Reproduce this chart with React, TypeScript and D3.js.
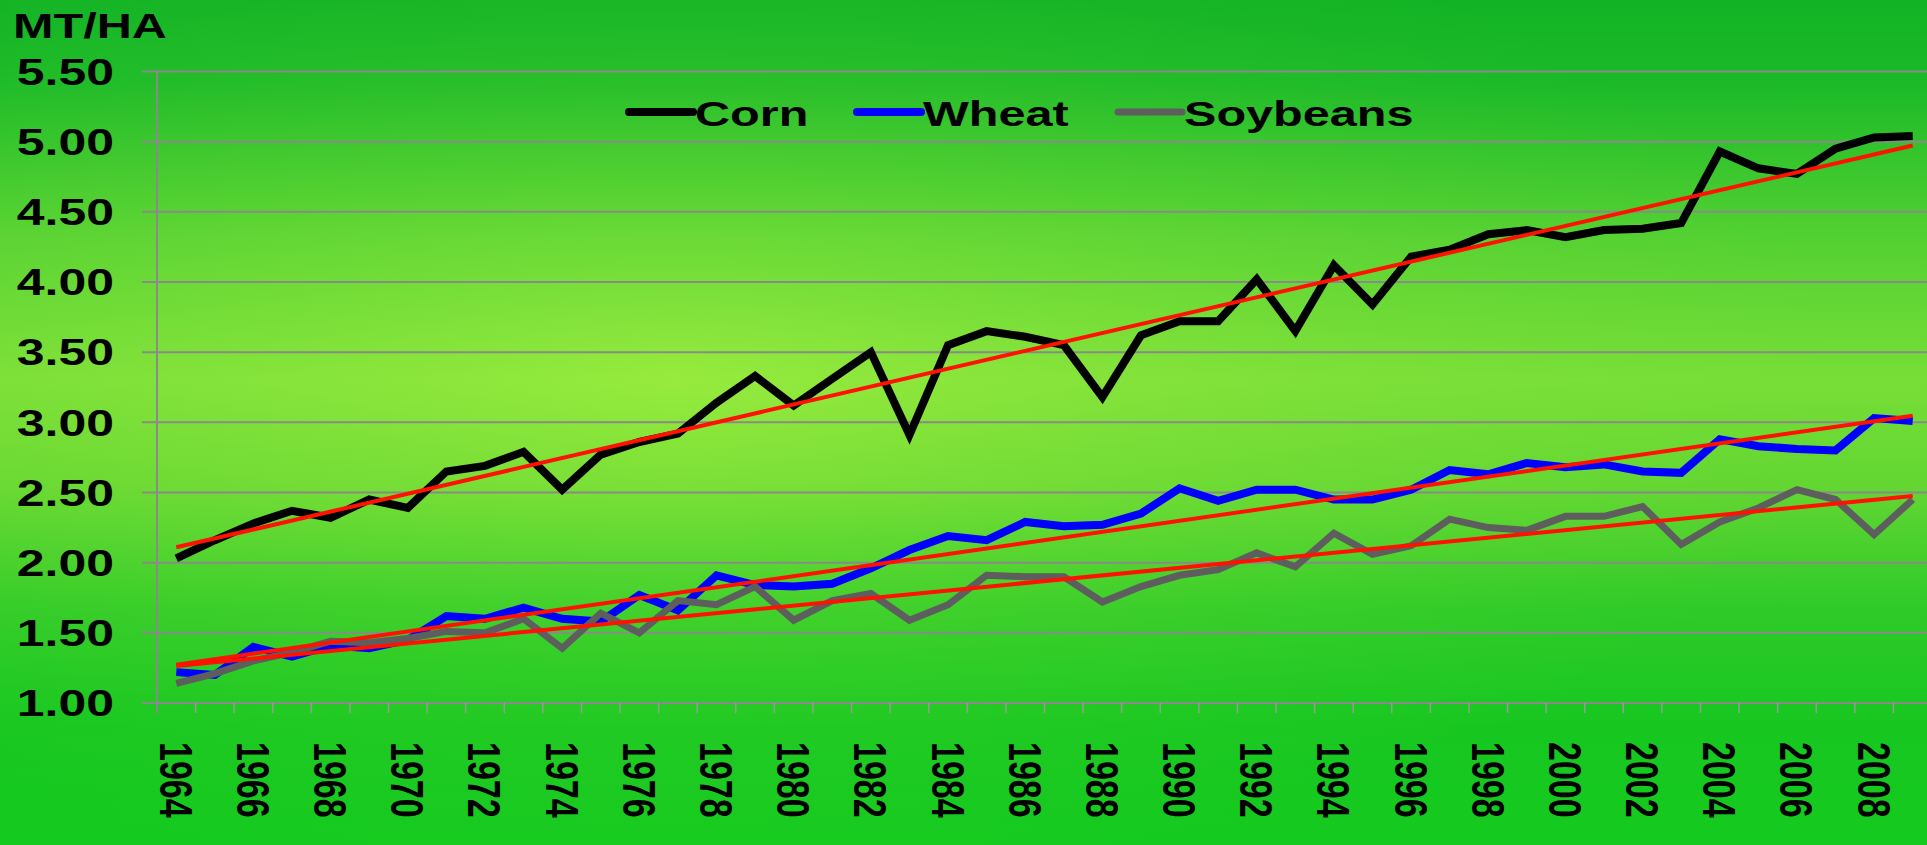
import React, { useEffect, useRef } from "react";
import * as d3 from "d3";

const years = [
  1964, 1965, 1966, 1967, 1968, 1969, 1970, 1971, 1972, 1973, 1974, 1975,
  1976, 1977, 1978, 1979, 1980, 1981, 1982, 1983, 1984, 1985, 1986, 1987,
  1988, 1989, 1990, 1991, 1992, 1993, 1994, 1995, 1996, 1997, 1998, 1999,
  2000, 2001, 2002, 2003, 2004, 2005, 2006, 2007, 2008, 2009,
];

const corn = [
  2.03, 2.16, 2.28, 2.37, 2.32, 2.45, 2.39, 2.65, 2.69, 2.79, 2.52, 2.77,
  2.86, 2.92, 3.14, 3.33, 3.12, 3.31, 3.5, 2.91, 3.55, 3.65, 3.61, 3.55,
  3.18, 3.62, 3.72, 3.72, 4.02, 3.65, 4.12, 3.84, 4.18, 4.23, 4.34, 4.37,
  4.32, 4.37, 4.38, 4.42, 4.93, 4.81, 4.77, 4.95, 5.03, 5.04,
];

const wheat = [
  1.22, 1.2, 1.4, 1.33, 1.41, 1.39, 1.45, 1.62, 1.6, 1.68, 1.6, 1.58, 1.77,
  1.66, 1.91, 1.84, 1.83, 1.85, 1.96, 2.09, 2.19, 2.16, 2.29, 2.26, 2.27,
  2.35, 2.53, 2.44, 2.52, 2.52, 2.45, 2.45, 2.52, 2.66, 2.63, 2.71, 2.68,
  2.7, 2.65, 2.64, 2.88, 2.83, 2.81, 2.8, 3.03, 3.01,
];

const soybeans = [
  1.14, 1.21, 1.3, 1.36, 1.44, 1.43, 1.46, 1.51, 1.5, 1.6, 1.39, 1.64, 1.5,
  1.73, 1.7, 1.83, 1.59, 1.73, 1.78, 1.59, 1.7, 1.91, 1.9, 1.9, 1.72, 1.83,
  1.91, 1.95, 2.07, 1.97, 2.21, 2.06, 2.12, 2.31, 2.25, 2.23, 2.33, 2.33,
  2.4, 2.13, 2.29, 2.39, 2.52, 2.45, 2.2, 2.45,
];

const yTicks = [1.0, 1.5, 2.0, 2.5, 3.0, 3.5, 4.0, 4.5, 5.0, 5.5];
const xTickLabels = [
  1964, 1966, 1968, 1970, 1972, 1974, 1976, 1978, 1980, 1982, 1984, 1986,
  1988, 1990, 1992, 1994, 1996, 1998, 2000, 2002, 2004, 2006, 2008,
];

const seriesNames = ["Corn", "Wheat", "Soybeans"];

export default function App() {
  const ref = useRef<SVGSVGElement>(null);

  useEffect(() => {
    draw();
  }, []);

  let draw = () => {
    let svg = d3.select(ref.current);
    svg.selectAll("*").remove();

    let width = 1927;
    let height = 845;
    let stretch = 1.35; // the whole picture is widened sideways
    let font = "'Liberation Sans', Arial, sans-serif";

    // background
    let defs = svg.append("defs");
    let bg = defs
      .append("linearGradient")
      .attr("id", "bg")
      .attr("x1", 0)
      .attr("y1", 0)
      .attr("x2", 0)
      .attr("y2", 1);
    [
      [0, "#12b426"],
      [0.1, "#1ebc2a"],
      [0.28, "#62d836"],
      [0.45, "#8ee83c"],
      [0.58, "#74de36"],
      [0.72, "#36d02a"],
      [0.86, "#18cc20"],
      [1, "#16d01e"],
    ].forEach(([o, c]) =>
      bg.append("stop").attr("offset", o).attr("stop-color", c)
    );
    let glow = defs
      .append("radialGradient")
      .attr("id", "glow")
      .attr("cx", 0.35)
      .attr("cy", 0.45)
      .attr("r", 0.6);
    glow.append("stop").attr("offset", 0).attr("stop-color", "#a8f040").attr("stop-opacity", 0.35);
    glow.append("stop").attr("offset", 1).attr("stop-color", "#10b020").attr("stop-opacity", 0.18);

    svg.append("rect").attr("width", width).attr("height", height).attr("fill", "url(#bg)");
    svg.append("rect").attr("width", width).attr("height", height).attr("fill", "url(#glow)");

    let xScale = d3
      .scaleBand<number>()
      .domain(years)
      .range([157, 1932])
      .padding(0);
    let cx = (yr: number) => xScale(yr)! + xScale.bandwidth() / 2;

    let yScale = d3.scaleLinear().domain([1, 5.5]).range([703, 71.5]);

    // gridlines
    svg
      .append("g")
      .selectAll("line")
      .data(yTicks)
      .enter()
      .append("line")
      .attr("x1", 142)
      .attr("x2", width)
      .attr("y1", (d) => yScale(d))
      .attr("y2", (d) => yScale(d))
      .attr("stroke", "#8a8a8a")
      .attr("stroke-width", 2);

    // axis lines and ticks
    svg
      .append("line")
      .attr("x1", 157)
      .attr("x2", 157)
      .attr("y1", yScale(5.5))
      .attr("y2", 713)
      .attr("stroke", "#8a8a8a")
      .attr("stroke-width", 2);

    svg
      .append("g")
      .selectAll("line")
      .data(years)
      .enter()
      .append("line")
      .attr("x1", (d) => xScale(d)! + xScale.bandwidth())
      .attr("x2", (d) => xScale(d)! + xScale.bandwidth())
      .attr("y1", 703)
      .attr("y2", 713)
      .attr("stroke", "#9a9a9a")
      .attr("stroke-width", 1.5);

    // y labels
    svg
      .append("g")
      .selectAll("text")
      .data(yTicks)
      .enter()
      .append("text")
      .attr("transform", (d) => `translate(114, ${yScale(d)}) scale(${stretch}, 1)`)
      .attr("dy", "0.36em")
      .attr("text-anchor", "end")
      .attr("font-family", font)
      .attr("font-weight", "bold")
      .attr("font-size", 37)
      .attr("fill", "#000")
      .text((d) => d.toFixed(2));

    svg
      .append("text")
      .attr("transform", `translate(13, 38) scale(${stretch}, 1)`)
      .attr("font-family", font)
      .attr("font-weight", "bold")
      .attr("font-size", 36)
      .attr("fill", "#000")
      .text("MT/HA");

    // x labels, turned to read downward
    svg
      .append("g")
      .selectAll("text")
      .data(xTickLabels)
      .enter()
      .append("text")
      .attr("transform", (d) => `translate(${cx(d)}, 742) scale(${stretch}, 1) rotate(90)`)
      .attr("dy", "0.36em")
      .attr("font-family", font)
      .attr("font-weight", "bold")
      .attr("font-size", 34)
      .attr("fill", "#000")
      .text((d) => d);

    let line = d3
      .line<number>()
      .x((d, i) => cx(years[i]))
      .y((d) => yScale(d));

    let all = [
      { name: seriesNames[0], values: corn, color: "#000000", w: 8 },
      { name: seriesNames[1], values: wheat, color: "#0000ff", w: 8 },
      { name: seriesNames[2], values: soybeans, color: "#5e5e5e", w: 7 },
    ];

    all.forEach((s) => {
      svg
        .append("path")
        .datum(s.values)
        .attr("d", line)
        .attr("fill", "none")
        .attr("stroke", s.color)
        .attr("stroke-width", s.w)
        .attr("stroke-linejoin", "miter");
    });

    // linear trend of each series
    all.forEach((s) => {
      let n = s.values.length;
      let xs = s.values.map((d, i) => i);
      let mx = d3.mean(xs)!;
      let my = d3.mean(s.values)!;
      let slope =
        d3.sum(xs, (x, i) => (x - mx) * (s.values[i] - my)) /
        d3.sum(xs, (x) => (x - mx) * (x - mx));
      let b = my - slope * mx;
      svg
        .append("line")
        .attr("x1", cx(years[0]))
        .attr("y1", yScale(b))
        .attr("x2", cx(years[n - 1]))
        .attr("y2", yScale(b + slope * (n - 1)))
        .attr("stroke", "#ff1200")
        .attr("stroke-width", 4);
    });

    // legend
    let legendX = [629, 857, 1118];
    let legend = svg
      .append("g")
      .selectAll("g")
      .data(all)
      .enter()
      .append("g")
      .attr("transform", (d, i) => `translate(${legendX[i]}, 112)`);
    legend
      .append("line")
      .attr("x1", 0)
      .attr("x2", 64)
      .attr("stroke", (d) => d.color)
      .attr("stroke-width", (d) => d.w)
      .attr("stroke-linecap", "round");
    legend
      .append("text")
      .attr("transform", `translate(66, 14) scale(${stretch}, 1)`)
      .attr("font-family", font)
      .attr("font-weight", "bold")
      .attr("font-size", 36)
      .attr("fill", "#000")
      .text((d) => d.name);
  };

  return (
    <svg
      ref={ref}
      width={1927}
      height={845}
      style={{ position: "absolute", left: 0, top: 0 }}
    ></svg>
  );
}
